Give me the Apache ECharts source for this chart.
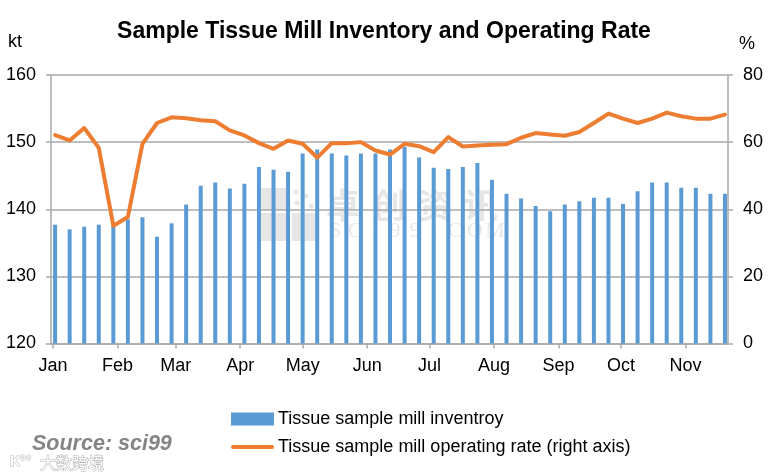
<!DOCTYPE html>
<html>
<head>
<meta charset="utf-8">
<script src="https://cdn.jsdelivr.net/npm/echarts@6/dist/echarts.min.js"></script>
<style>
html,body{margin:0;padding:0;background:#fff;}
#chart{width:768px;height:472px;}
</style>
</head>
<body>
<div id="chart"></div>
<script>
const dates = [
  '2019-01-02','2019-01-09','2019-01-16','2019-01-23','2019-01-30',
  '2019-02-06','2019-02-13','2019-02-20','2019-02-27',
  '2019-03-06','2019-03-13','2019-03-20','2019-03-27',
  '2019-04-03','2019-04-10','2019-04-17','2019-04-24',
  '2019-05-01','2019-05-08','2019-05-15','2019-05-22','2019-05-29',
  '2019-06-05','2019-06-12','2019-06-19','2019-06-26',
  '2019-07-03','2019-07-10','2019-07-17','2019-07-24','2019-07-31',
  '2019-08-07','2019-08-14','2019-08-21','2019-08-28',
  '2019-09-04','2019-09-11','2019-09-18','2019-09-25',
  '2019-10-02','2019-10-09','2019-10-16','2019-10-23','2019-10-30',
  '2019-11-06','2019-11-13','2019-11-20'
];
const inventory = [
  137.7,137.0,137.4,137.7,137.6,138.5,138.8,135.9,137.9,140.7,
  143.5,144.0,143.1,143.8,146.3,145.9,145.6,148.3,148.9,148.3,
  148.0,148.3,148.3,148.9,149.3,147.7,146.2,146.0,146.3,146.9,
  144.4,142.3,141.6,140.5,139.7,140.7,141.2,141.7,141.7,140.8,
  142.7,144.0,144.0,143.2,143.2,142.3,142.3
];
const operatingRate = [
  62.1,60.5,64.2,58.3,35.1,37.7,59.5,65.7,67.4,67.1,
  66.5,66.2,63.5,62.0,59.7,58.0,60.5,59.5,55.4,59.7,
  59.7,60.0,57.5,56.3,59.5,58.8,57.0,61.5,58.7,59.0,
  59.2,59.4,61.3,62.7,62.3,61.9,63.0,65.7,68.5,67.0,
  65.7,67.0,68.8,67.7,67.0,67.0,68.2
];
const monthNames = ['Jan','Feb','Mar','Apr','May','Jun','Jul','Aug','Sep','Oct','Nov','Dec'];
const leftTicks = {min:120, max:160, interval:10};
const rightTicks = {min:0, max:80, interval:20};
const seriesNames = ['Tissue sample mill inventroy','Tissue sample mill operating rate (right axis)'];

const FONT = '"Liberation Sans", Arial, sans-serif';
const GRID = '#a9a9a9';

const chart = echarts.init(document.getElementById('chart'), null, {renderer:'canvas'});

const wmChars = ['卓','创','资','讯'];
const wmLatin = 'SCI99.COM'.split('');
const graphics = [];
wmChars.forEach((c,i)=>{
  graphics.push({type:'text', z:-1, x:343+i*46, y:205,
    style:{text:c, fill:'#e6e6e6', font:'bold 34px "Noto Sans CJK SC", sans-serif', align:'center', verticalAlign:'middle'}});
});
wmLatin.forEach((c,i)=>{
  graphics.push({type:'text', z:-1, x:335+i*20, y:231,
    style:{text:c, fill:'#e8e8e8', font:'22px "Liberation Serif", serif', align:'center', verticalAlign:'middle'}});
});
graphics.push(
  {type:'rect', z:-1, shape:{x:261,y:188,width:26,height:22}, style:{fill:'#e6e6e6'}},
  {type:'rect', z:-1, shape:{x:261,y:213,width:26,height:28}, style:{fill:'#e6e6e6'}},
  {type:'rect', z:-1, shape:{x:292,y:213,width:24,height:28}, style:{fill:'#e6e6e6'}},
  {type:'circle', z:-1, shape:{cx:296,cy:192,r:2.5}, style:{fill:'#e6e6e6'}},
  {type:'circle', z:-1, shape:{cx:306,cy:196,r:2.5}, style:{fill:'#e6e6e6'}},
  {type:'circle', z:-1, shape:{cx:297,cy:203,r:2.5}, style:{fill:'#e6e6e6'}},
  {type:'circle', z:-1, shape:{cx:311,cy:206,r:2.5}, style:{fill:'#e6e6e6'}},
  {type:'text', x:8, y:42, style:{text:'kt', fill:'#000', font:'18px '+FONT, align:'left', verticalAlign:'middle'}},
  {type:'text', x:747, y:44, style:{text:'%', fill:'#000', font:'18px '+FONT, align:'center', verticalAlign:'middle'}},
  {type:'text', x:32, y:444, style:{text:'Source: sci99', fill:'#858585', font:'italic bold 21.5px '+FONT, align:'left', verticalAlign:'middle'}},
  {type:'text', x:10, y:462, style:{text:'K°°', fill:'#ffffff', stroke:'#b5b5b5', lineWidth:1, font:'bold 14px '+FONT, align:'left', verticalAlign:'middle'}},
  {type:'text', x:40, y:463, style:{text:'大数跨境', fill:'#ffffff', stroke:'#b0b0b0', lineWidth:1, font:'16px "Noto Sans CJK SC", sans-serif', align:'left', verticalAlign:'middle'}}
);

const option = {
  backgroundColor:'#ffffff',
  animation:false,
  title:{
    text:'Sample Tissue Mill Inventory and Operating Rate',
    left:'center', top:15,
    textStyle:{fontFamily:FONT, fontWeight:'bold', fontSize:23, color:'#000'}
  },
  legend:{
    orient:'vertical', left:226, top:405,
    itemWidth:43, itemHeight:13, itemGap:10,
    textStyle:{fontFamily:FONT, fontSize:18, color:'#000', padding:[0,0,0,-1]},
    data:[
      {name:seriesNames[0], icon:'rect'},
      {name:seriesNames[1], icon:'path://M2,0 H41 A2,2 0 0 1 41,4 H2 A2,2 0 0 1 2,0 Z'}
    ]
  },
  grid:{left:51, right:40, top:75, bottom:128.5, containLabel:false},
  xAxis:{
    type:'time',
    min:new Date(2019,0,1).getTime(),
    max:new Date(2019,10,20,12).getTime(),
    splitNumber:11,
    minInterval:28*86400000,
    maxInterval:31*86400000,
    axisLine:{show:true, lineStyle:{color:GRID, width:1.5}},
    axisTick:{show:true, length:5, lineStyle:{color:GRID, width:1.5}},
    splitLine:{show:false},
    minorTick:{show:false},
    axisLabel:{
      fontFamily:FONT, fontSize:18, color:'#000', margin:14,
      hideOverlap:false,
      formatter:function(v){ return monthNames[new Date(v).getMonth()]; }
    }
  },
  yAxis:[
    {
      type:'value', position:'left',
      min:leftTicks.min, max:leftTicks.max, interval:leftTicks.interval,
      axisLine:{show:true, lineStyle:{color:GRID, width:1.5}},
      axisTick:{show:true, length:5, lineStyle:{color:GRID, width:1.5}},
      splitLine:{show:true, lineStyle:{color:GRID, width:1.5}},
      axisLabel:{fontFamily:FONT, fontSize:18, color:'#000', margin:15}
    },
    {
      type:'value', position:'right',
      min:rightTicks.min, max:rightTicks.max, interval:rightTicks.interval,
      axisLine:{show:true, lineStyle:{color:GRID, width:1.5}},
      axisTick:{show:true, length:5, lineStyle:{color:GRID, width:1.5}},
      splitLine:{show:false},
      axisLabel:{fontFamily:FONT, fontSize:18, color:'#000', margin:15}
    }
  ],
  series:[
    {
      name:seriesNames[0], type:'bar', yAxisIndex:0,
      barWidth:4, itemStyle:{color:'#5B9BD5'},
      data:dates.map((d,i)=>[d, inventory[i]])
    },
    {
      name:seriesNames[1], type:'line', yAxisIndex:1,
      symbol:'none', smooth:false,
      lineStyle:{color:'#ED7D31', width:4, join:'round', cap:'round'},
      itemStyle:{color:'#ED7D31'},
      data:dates.map((d,i)=>[d, operatingRate[i]])
    }
  ],
  graphic:graphics
};
chart.setOption(option);
</script>
</body>
</html>
